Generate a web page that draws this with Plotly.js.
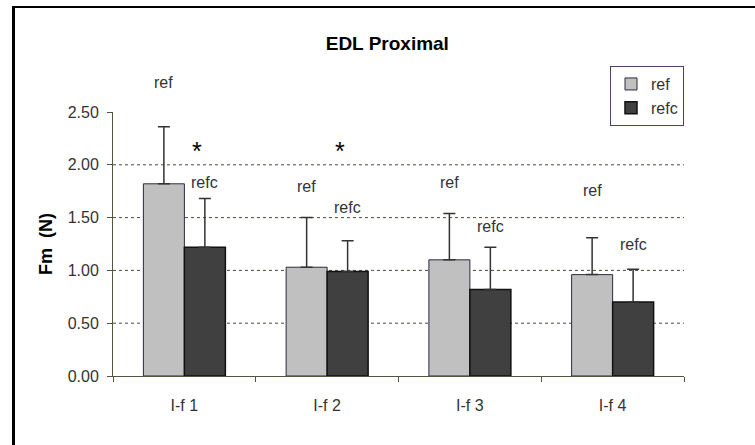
<!DOCTYPE html>
<html>
<head>
<meta charset="utf-8">
<script src="https://cdn.plot.ly/plotly-3.0.1.min.js"></script>
<style>
  html, body { margin: 0; padding: 0; background: #fff; overflow: hidden; }
  #wrap { position: relative; width: 755px; height: 445px; }
  #chart { width: 755px; height: 445px; }
  #frame { position: absolute; left: 12px; top: 6px; width: 900px; height: 900px;
           border-left: 3px solid #000; border-top: 2px solid #000; pointer-events: none; }
</style>
</head>
<body>
<div id="wrap">
  <div id="chart"></div>
  <div id="frame"></div>
</div>
<script>
// ---- data ----
const categories = ['I-f 1', 'I-f 2', 'I-f 3', 'I-f 4'];
const refValues  = [1.82, 1.03, 1.10, 0.96];
const refErr     = [0.54, 0.47, 0.44, 0.35];
const refcValues = [1.22, 0.99, 0.82, 0.70];
const refcErr    = [0.46, 0.29, 0.40, 0.31];
const yTickVals  = [0, 0.5, 1.0, 1.5, 2.0, 2.5];
const yTickText  = ['0.00', '0.50', '1.00', '1.50', '2.00', '2.50'];
const gridVals   = [0.5, 1.0, 1.5, 2.0];
const starCategories = ['I-f 1', 'I-f 2'];

// ---- label placement (layout, not data), in y-axis units ----
const Y_MAX = 2.5;
const refLabelY  = [2.78, 1.79, 1.83, 1.76];
const refcLabelY = [1.83, 1.60, 1.42, 1.25];
const starY = 2.17;

const FONT = 'Liberation Sans, Arial, sans-serif';
const noMinus = refErr.map(() => 0);

const traces = [
  {
    type: 'bar', name: 'ref', x: categories, y: refValues,
    marker: { color: '#c0c0c0', line: { color: '#2a2a40', width: 1 } },
    error_y: { type: 'data', symmetric: false, array: refErr, arrayminus: noMinus,
               color: '#333333', thickness: 1.5, width: 6 }
  },
  {
    type: 'bar', name: 'refc', x: categories, y: refcValues,
    marker: { color: '#404040', line: { color: '#111111', width: 1.5 } },
    error_y: { type: 'data', symmetric: false, array: refcErr, arrayminus: noMinus,
               color: '#333333', thickness: 1.5, width: 6 }
  }
];

const annotations = [];
categories.forEach((c, i) => {
  annotations.push({ x: c, y: refLabelY[i] / Y_MAX, xref: 'x', yref: 'paper', text: 'ref',
    showarrow: false, xshift: -20.5, yanchor: 'middle', xanchor: 'center',
    font: { family: FONT, size: 16, color: '#333' } });
  annotations.push({ x: c, y: refcLabelY[i] / Y_MAX, xref: 'x', yref: 'paper', text: 'refc',
    showarrow: false, xshift: 20.5, yanchor: 'middle', xanchor: 'center',
    font: { family: FONT, size: 16, color: '#333' } });
});
starCategories.forEach(c => {
  annotations.push({ x: c, y: starY / Y_MAX, xref: 'x', yref: 'paper', text: '*',
    showarrow: false, xshift: 13, yshift: -4, yanchor: 'middle', xanchor: 'center',
    font: { family: FONT, size: 25, color: '#000' } });
});

const shapes = gridVals.map(v => ({
  type: 'line', xref: 'paper', yref: 'y', x0: 0, x1: 1, y0: v, y1: v, layer: 'below',
  line: { color: '#4a4a3a', width: 1, dash: '3px,3px' }
}));

const layout = {
  width: 755, height: 445,
  margin: { l: 113, r: 71, t: 112, b: 69 },
  paper_bgcolor: '#ffffff', plot_bgcolor: '#ffffff',
  font: { family: FONT, size: 16, color: '#333' },
  title: { text: '<b>EDL Proximal</b>', font: { family: FONT, size: 19, color: '#000' },
           xref: 'container', x: 0.513, xanchor: 'center', yref: 'container', y: 0.903, yanchor: 'middle' },
  barmode: 'group', bargap: 0.4256, bargroupgap: 0,
  xaxis: {
    type: 'category', range: [-0.5, 3.5], showgrid: false, zeroline: false,
    showline: true, linecolor: '#55553f', linewidth: 1,
    ticks: 'outside', tickson: 'boundaries', ticklen: 5, tickcolor: '#55553f',
    ticklabelstandoff: 15,
    tickfont: { family: FONT, size: 16, color: '#333' }
  },
  yaxis: {
    range: [0, Y_MAX], tickvals: yTickVals, ticktext: yTickText,
    showgrid: false, zeroline: false, showline: true, linecolor: '#55553f', linewidth: 1,
    ticks: 'outside', ticklen: 5, tickcolor: '#55553f', ticklabelstandoff: 5,
    tickfont: { family: FONT, size: 16, color: '#333' },
    title: { text: '<b>Fm\u00a0\u00a0(N)</b>', standoff: 10, font: { family: FONT, size: 18, color: '#000' } }
  },
  showlegend: true,
  legend: {
    x: 1.0, xanchor: 'right', y: 1.174, yanchor: 'top',
    bgcolor: '#ffffff', bordercolor: '#44446a', borderwidth: 1,
    font: { family: FONT, size: 16, color: '#333' },
    itemwidth: 30, tracegroupgap: 0
  },
  annotations: annotations,
  shapes: shapes
};

Plotly.newPlot('chart', traces, layout, { displayModeBar: false, staticPlot: true });
</script>
</body>
</html>
